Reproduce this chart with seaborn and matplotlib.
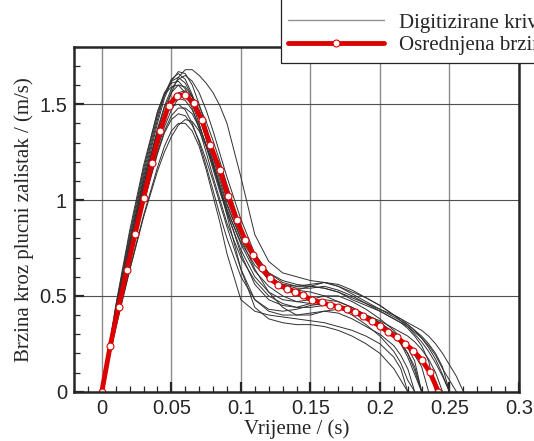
import numpy as np
import pandas as pd
import seaborn as sns
import matplotlib.pyplot as plt
from matplotlib.lines import Line2D
from matplotlib.patches import Rectangle
from matplotlib.ticker import MultipleLocator

# vremenska mreza za digitizirane krivulje (s)
t_grid = [0, 0.01, 0.02, 0.03, 0.04, 0.045, 0.05, 0.055, 0.06, 0.065, 0.07, 0.075,
          0.08, 0.085, 0.09, 0.1, 0.11, 0.12, 0.13, 0.14, 0.15, 0.16, 0.17, 0.18,
          0.19, 0.2, 0.21, 0.215, 0.22, 0.225, 0.23, 0.235, 0.24, 0.245, 0.25, 0.255, 0.26]

# digitizirane krivulje brzine (m/s), svaka zavrsava kad padne na nulu
curve_01 = [0, 0.42, 0.78, 1.12, 1.42, 1.55, 1.63, 1.66, 1.63, 1.55, 1.44, 1.32, 1.19, 1.06, 0.95,
            0.78, 0.66, 0.59, 0.55, 0.53, 0.52, 0.50, 0.47, 0.44, 0.40, 0.36, 0.30, 0.26, 0.20, 0.11, 0.0]
curve_02 = [0, 0.40, 0.76, 1.10, 1.40, 1.53, 1.62, 1.67, 1.66, 1.60, 1.50, 1.38, 1.25, 1.12, 1.00,
            0.82, 0.70, 0.62, 0.58, 0.56, 0.55, 0.54, 0.52, 0.48, 0.45, 0.42, 0.38, 0.36, 0.33, 0.29,
            0.24, 0.16, 0.0]
curve_03 = [0, 0.36, 0.70, 1.02, 1.32, 1.45, 1.56, 1.64, 1.68, 1.68, 1.65, 1.61, 1.56, 1.49, 1.40,
            1.12, 0.82, 0.68, 0.62, 0.60, 0.58, 0.57, 0.55, 0.52, 0.49, 0.45, 0.40, 0.37, 0.34, 0.30,
            0.26, 0.21, 0.15, 0.08, 0.0]
curve_04 = [0, 0.34, 0.64, 0.92, 1.17, 1.28, 1.36, 1.40, 1.40, 1.36, 1.28, 1.16, 1.02, 0.88, 0.72,
            0.48, 0.42, 0.40, 0.39, 0.38, 0.37, 0.36, 0.34, 0.32, 0.29, 0.25, 0.18, 0.12, 0.0]
curve_05 = [0, 0.36, 0.68, 0.98, 1.24, 1.35, 1.42, 1.45, 1.44, 1.39, 1.31, 1.21, 1.10, 0.98, 0.86,
            0.64, 0.48, 0.42, 0.40, 0.40, 0.41, 0.42, 0.41, 0.38, 0.34, 0.30, 0.24, 0.19, 0.12, 0.0]
curve_06 = [0, 0.44, 0.82, 1.16, 1.46, 1.56, 1.61, 1.62, 1.58, 1.50, 1.40, 1.28, 1.16, 1.04, 0.93,
            0.74, 0.60, 0.52, 0.48, 0.47, 0.48, 0.50, 0.50, 0.47, 0.43, 0.38, 0.32, 0.28, 0.23, 0.16, 0.0]
curve_07 = [0, 0.40, 0.75, 1.08, 1.36, 1.48, 1.56, 1.60, 1.59, 1.54, 1.45, 1.34, 1.22, 1.10, 0.98,
            0.80, 0.64, 0.52, 0.44, 0.40, 0.40, 0.42, 0.43, 0.42, 0.39, 0.35, 0.29, 0.25, 0.20, 0.13, 0.0]
curve_08 = [0, 0.38, 0.72, 1.04, 1.32, 1.43, 1.51, 1.56, 1.57, 1.54, 1.47, 1.37, 1.26, 1.14, 1.02,
            0.83, 0.68, 0.60, 0.56, 0.55, 0.56, 0.57, 0.55, 0.51, 0.47, 0.43, 0.39, 0.37, 0.35, 0.32,
            0.29, 0.25, 0.20, 0.13, 0.0]
curve_09 = [0, 0.43, 0.80, 1.14, 1.44, 1.55, 1.62, 1.64, 1.61, 1.54, 1.44, 1.32, 1.20, 1.08, 0.97,
            0.80, 0.68, 0.60, 0.56, 0.54, 0.54, 0.55, 0.53, 0.50, 0.46, 0.42, 0.38, 0.36, 0.34, 0.31,
            0.28, 0.24, 0.19, 0.12, 0.06, 0.0]
curve_10 = [0, 0.37, 0.69, 0.99, 1.25, 1.36, 1.44, 1.48, 1.48, 1.45, 1.38, 1.29, 1.18, 1.06, 0.94,
            0.72, 0.56, 0.48, 0.45, 0.44, 0.46, 0.48, 0.47, 0.44, 0.40, 0.36, 0.31, 0.28, 0.24, 0.19,
            0.13, 0.0]
curve_11 = [0, 0.40, 0.74, 1.06, 1.33, 1.44, 1.50, 1.53, 1.52, 1.47, 1.39, 1.29, 1.18, 1.06, 0.95,
            0.77, 0.63, 0.55, 0.50, 0.47, 0.46, 0.45, 0.44, 0.42, 0.40, 0.37, 0.33, 0.31, 0.29, 0.26,
            0.22, 0.17, 0.10, 0.0]
curve_12 = [0, 0.39, 0.74, 1.07, 1.37, 1.49, 1.58, 1.63, 1.65, 1.62, 1.56, 1.47, 1.36, 1.24, 1.12,
            0.90, 0.72, 0.62, 0.57, 0.55, 0.55, 0.54, 0.52, 0.49, 0.46, 0.43, 0.40, 0.38, 0.36, 0.34,
            0.32, 0.29, 0.25, 0.20, 0.14, 0.08, 0.0]
curve_13 = [0, 0.33, 0.63, 0.91, 1.15, 1.25, 1.33, 1.39, 1.42, 1.41, 1.36, 1.28, 1.18, 1.06, 0.92,
            0.64, 0.44, 0.38, 0.36, 0.35, 0.35, 0.34, 0.32, 0.29, 0.25, 0.20, 0.12, 0.06, 0.0]
curve_14 = [0, 0.45, 0.84, 1.18, 1.46, 1.55, 1.59, 1.60, 1.56, 1.48, 1.37, 1.25, 1.12, 1.00, 0.88,
            0.70, 0.58, 0.50, 0.46, 0.44, 0.44, 0.45, 0.45, 0.43, 0.40, 0.36, 0.30, 0.25, 0.18, 0.09, 0.0]
curve_15 = [0, 0.36, 0.69, 1.00, 1.27, 1.38, 1.47, 1.53, 1.55, 1.54, 1.49, 1.41, 1.31, 1.20, 1.08,
            0.86, 0.68, 0.58, 0.54, 0.53, 0.55, 0.57, 0.56, 0.53, 0.49, 0.45, 0.40, 0.38, 0.35, 0.32,
            0.28, 0.23, 0.17, 0.09, 0.0]
curve_16 = [0, 0.42, 0.78, 1.10, 1.36, 1.45, 1.49, 1.50, 1.47, 1.40, 1.30, 1.18, 1.05, 0.92, 0.80,
            0.60, 0.48, 0.43, 0.42, 0.43, 0.45, 0.46, 0.44, 0.40, 0.35, 0.29, 0.21, 0.15, 0.06, 0.0]

curves = [curve_01, curve_02, curve_03, curve_04, curve_05, curve_06, curve_07, curve_08,
          curve_09, curve_10, curve_11, curve_12, curve_13, curve_14, curve_15, curve_16]

# osrednjena krivulja
mean_t = [0.0, 0.006, 0.012, 0.018, 0.024, 0.030, 0.036, 0.042, 0.048, 0.054, 0.060, 0.066,
          0.072, 0.078, 0.085, 0.091, 0.097, 0.103, 0.109, 0.115, 0.121, 0.127, 0.133, 0.139,
          0.145, 0.151, 0.158, 0.164, 0.170, 0.176, 0.182, 0.188, 0.194, 0.200, 0.206, 0.212,
          0.218, 0.224, 0.230, 0.236, 0.242]
mean_v = [0.0, 0.238, 0.441, 0.634, 0.825, 1.010, 1.193, 1.361, 1.493, 1.545, 1.549, 1.505,
          1.415, 1.288, 1.155, 1.021, 0.894, 0.794, 0.714, 0.644, 0.592, 0.557, 0.538, 0.521,
          0.502, 0.478, 0.466, 0.453, 0.443, 0.431, 0.415, 0.393, 0.368, 0.342, 0.311, 0.283,
          0.250, 0.214, 0.165, 0.101, 0.0]

x_ticks = [0, 0.05, 0.1, 0.15, 0.2, 0.25, 0.3]
x_labels = ['0', '0.05', '0.1', '0.15', '0.2', '0.25', '0.3']
y_ticks = [0, 0.5, 1, 1.5]
y_labels = ['0', '0.5', '1', '1.5']

rows = []
for i, c in enumerate(curves):
    for t, v in zip(t_grid[:len(c)], c):
        rows.append((i, t, v))
df = pd.DataFrame(rows, columns=['krivulja', 't', 'v'])

sns.set_style('ticks')
plt.rcParams['font.family'] = ['Liberation Serif', 'DejaVu Serif']

fig = plt.figure(figsize=(5.34, 4.41), dpi=100)
ax = fig.add_axes([0.1386, 0.1118, 0.8333, 0.7823])

red = '#dd0000'
sns.lineplot(data=df, x='t', y='v', units='krivulja', estimator=None, sort=False,
             color='#303030', lw=0.7, ax=ax, zorder=3)
sns.lineplot(x=mean_t, y=mean_v, sort=False, color=red, lw=3.5, marker='o', markersize=5,
             markerfacecolor='white', markeredgecolor=red, markeredgewidth=0.8, ax=ax, zorder=4)

ax.set_xlim(-0.02, 0.3)
ax.set_ylim(0, 1.8)
ax.set_xticks(x_ticks)
ax.set_xticklabels(x_labels, family='Liberation Sans', fontsize=14.5)
ax.set_yticks(y_ticks)
ax.set_yticklabels(y_labels, family='Liberation Sans', fontsize=14.5)
ax.xaxis.set_minor_locator(MultipleLocator(0.01))
ax.yaxis.set_minor_locator(MultipleLocator(0.1))
ax.tick_params(which='major', direction='in', length=7, width=1.6, pad=5)
ax.tick_params(which='minor', direction='in', length=4, width=0.9)
ax.grid(True, which='major', axis='x', color='#8c8c8c', lw=1.0)
ax.grid(True, which='major', axis='y', color='#505050', lw=0.8)
for s in ax.spines.values():
    s.set_linewidth(1.8)
    s.set_zorder(6)

ax.set_xlabel('Vrijeme / (s)', fontsize=15, labelpad=1)
ax.set_ylabel('Brzina kroz plucni zalistak / (m/s)', fontsize=15, labelpad=4)

# okvir legende izlazi izvan slike (kao u originalu)
fig.patches.append(Rectangle((281 / 534, 1 - 63 / 441), 0.6, 0.3, transform=fig.transFigure,
                             facecolor='white', edgecolor='#222222', lw=0.9, zorder=2))
handles = [Line2D([], [], color='#909090', lw=1.0),
           Line2D([], [], color=red, lw=3.5, marker='o', markersize=5,
                  markerfacecolor='white', markeredgecolor=red, markeredgewidth=0.8)]
fig.legend(handles, ['Digitizirane krivulje', 'Osrednjena brzina'], loc='upper left',
           bbox_to_anchor=(288 / 534, 1 - 13 / 441), bbox_transform=fig.transFigure,
           frameon=False, borderpad=0, borderaxespad=0, handlelength=4.6, handletextpad=0.75,
           labelspacing=0.15, numpoints=1, fontsize=15)

fig.savefig('out.png', dpi=100)
